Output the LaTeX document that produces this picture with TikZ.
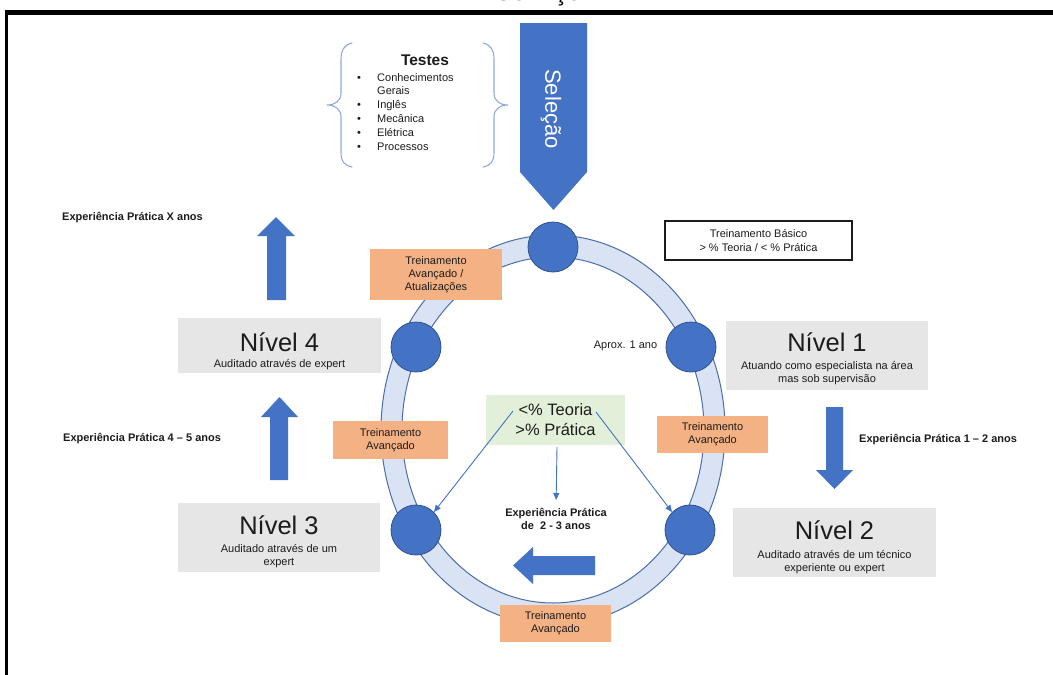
\documentclass[tikz,border=0pt]{standalone}
\usepackage{fontspec}
\setmainfont{Liberation Sans}
\usetikzlibrary{arrows.meta}
\definecolor{blu}{HTML}{4472C4}
\definecolor{bluedge}{HTML}{2F528F}
\definecolor{ringfill}{HTML}{DAE3F3}
\definecolor{ringline}{HTML}{4A6EAA}
\definecolor{orng}{HTML}{F4B183}
\definecolor{grayfill}{HTML}{E7E6E6}
\definecolor{greenfill}{HTML}{E2F0D9}
\definecolor{bracec}{HTML}{8FAADC}
\definecolor{ink}{HTML}{1C1C1C}
\begin{document}
\begin{tikzpicture}[x=1pt,y=-1pt,
  lbl/.style={font=\fontsize{11}{13.3}\selectfont, text=ink, inner sep=0, align=center},
  boldlbl/.style={font=\fontsize{11}{13.3}\selectfont\bfseries, text=ink, inner sep=0, align=center},
  levelnum/.style={font=\fontsize{25.5}{28}\selectfont, text=ink, inner sep=0},
  levelbox/.style={fill=grayfill, inner sep=0},
  trainbox/.style={fill=orng, inner sep=0, align=center, text=ink,
    font=\fontsize{11}{13.3}\selectfont},
  dot/.style={circle, fill=blu, draw=bluedge, line width=0.8, minimum size=50, inner sep=0},
  blockarrow/.style={fill=blu},
  thinarrow/.style={draw=blu, line width=0.9, -{Triangle[length=7,width=6]}},
  bracepath/.style={draw=bracec, line width=1.1, line cap=round}]
\clip (0,0) rectangle (1053,675);
\useasboundingbox (0,0) rectangle (1053,675);
\fill[white] (0,0) rectangle (1053,675);

% title, mostly above the page edge
\node[font=\fontsize{26}{30}\selectfont, anchor=base, inner sep=0] (svc) at (538,0) {Serviço};

% frame
\draw[line width=4.5] (5,12.5) -- (1053,12.5);
\draw[line width=3.5] (6.5,12.5) -- (6.5,675);

% selection arrow
\fill[blockarrow] (520,23) -- (587,23) -- (587,172) -- (553.5,210) -- (520,172) -- cycle;
\node[rotate=-90, text=white, font=\fontsize{22}{24}\selectfont, inner sep=0] (sel) at (551,109) {Seleção};

% tests with braces
\draw[bracepath] (352,43) .. controls (344,45) and (341,50) .. (341,60) -- (341,93)
  .. controls (341,101) and (335,105) .. (327,105)
  .. controls (335,105) and (341,109) .. (341,117) -- (341,152)
  .. controls (341,162) and (344,165) .. (352,167);
\draw[bracepath] (483,43) .. controls (491,45) and (494,50) .. (494,60) -- (494,93)
  .. controls (494,101) and (500,105) .. (508,105)
  .. controls (500,105) and (494,109) .. (494,117) -- (494,152)
  .. controls (494,162) and (491,165) .. (483,167);
\node[font=\fontsize{15.5}{18}\selectfont\bfseries, text=ink, inner sep=0] (tst) at (425,60) {Testes};
\foreach \t [count=\i] in {Conhecimentos,Gerais,Inglês,Mecânica,Elétrica,Processos}{
  \node[lbl, anchor=base west] (item\i) at (377,{81+13.8*(\i-1)}) {\t};
}
\foreach \i in {1,3,4,5,6}{
  \node[lbl, anchor=base] (bul\i) at (359,{81+13.8*(\i-1)}) {\textbullet};
}

% ring
\fill[ringfill, even odd rule] (553,430) ellipse [x radius=172, y radius=195]
  (553,430) ellipse [x radius=151, y radius=173];
\draw[ringline, line width=1] (553,430) ellipse [x radius=172, y radius=195];
\draw[ringline, line width=1] (553,430) ellipse [x radius=151, y radius=173];

% stage dots
\node[dot] (c0) at (553,247) {};
\node[dot] (c1) at (691,347) {};
\node[dot] (c4) at (416,347) {};
\node[dot] (c2) at (690,530) {};
\node[dot] (c3) at (416,530) {};

% training boxes
\node[trainbox, minimum width=132, minimum height=51] (tr1) at (436,274.5) {Treinamento\\Avançado /\\Atualizações};
\node[trainbox, minimum width=115, minimum height=38] (tr2) at (390.5,440) {Treinamento\\Avançado};
\node[trainbox, minimum width=111, minimum height=37] (tr3) at (712.5,434.5) {Treinamento\\Avançado};
\node[trainbox, minimum width=111, minimum height=37] (tr4) at (555.5,623.5) {Treinamento\\Avançado};

% basic training
\node[draw=ink, line width=1.2, fill=white, minimum width=187, minimum height=39, inner sep=0,
  lbl] (basic) at (758.5,240.5) {Treinamento Básico\\> \% Teoria / < \% Prática};
\node[lbl] (aprox) at (625.5,346) {Aprox. 1 ano};

% level boxes
\node[levelbox, minimum width=203, minimum height=55] (box4) at (279.5,345.5) {};
\node[levelnum, anchor=base] (t4) at (279.5,351) {Nível 4};
\node[lbl, anchor=base] (s4) at (279.5,367) {Auditado através de expert};

\node[levelbox, minimum width=202, minimum height=69] (box1) at (827,355.5) {};
\node[levelnum, anchor=base] (t1) at (827,351) {Nível 1};
\node[lbl] (s1) at (827,373) {Atuando como especialista na área\\mas sob supervisão};

\node[levelbox, minimum width=202, minimum height=69] (box3) at (279,537.5) {};
\node[levelnum, anchor=base] (t3) at (279,534) {Nível 3};
\node[lbl] (s3) at (279,556) {Auditado através de um\\expert};

\node[levelbox, minimum width=203, minimum height=69] (box2) at (834.5,542.5) {};
\node[levelnum, anchor=base] (t2) at (834.5,539) {Nível 2};
\node[lbl] (s2) at (834.5,562) {Auditado através de um técnico\\experiente ou expert};

% block arrows between levels
\fill[blockarrow] (267,300) -- (267,236) -- (257,236) -- (276,217) -- (295,236) -- (286,236) -- (286,300) -- cycle;
\fill[blockarrow] (270,480) -- (270,417) -- (261,417) -- (279.5,397) -- (298,417) -- (288,417) -- (288,480) -- cycle;
\fill[blockarrow] (826,407) -- (843,407) -- (843,470) -- (853,470) -- (834.5,489) -- (816,470) -- (826,470) -- cycle;
\fill[blockarrow] (595,556) -- (533,556) -- (533,547) -- (513,565.5) -- (533,584) -- (533,575) -- (595,575) -- cycle;

% experience labels
\node[boldlbl, anchor=west] (ex) at (62,218) {Experiência Prática X anos};
\node[boldlbl, anchor=west] (ex45) at (63,439) {Experiência Prática 4 – 5 anos};
\node[boldlbl, anchor=west] (ex12) at (859,440) {Experiência Prática 1 – 2 anos};
\node[boldlbl] (ex23) at (556,519) {Experiência Prática\\de \ 2 - 3 anos};

% practice focus
\node[fill=greenfill, minimum width=139, minimum height=50, inner sep=0, align=center,
  text=ink, font=\fontsize{16.5}{20}\selectfont] (focus) at (555.5,420) {<\% Teoria\\>\% Prática};
\coordinate (fl) at (513,411);
\coordinate (fr) at (596,412);
\coordinate (fm) at (557,447);
\draw[thinarrow] (fl) -- (c3.45);
\draw[thinarrow] (fr) -- (c2.135);
\draw[thinarrow, shorten >=8] (fm) -- (ex23.north);
\end{tikzpicture}
\end{document}
